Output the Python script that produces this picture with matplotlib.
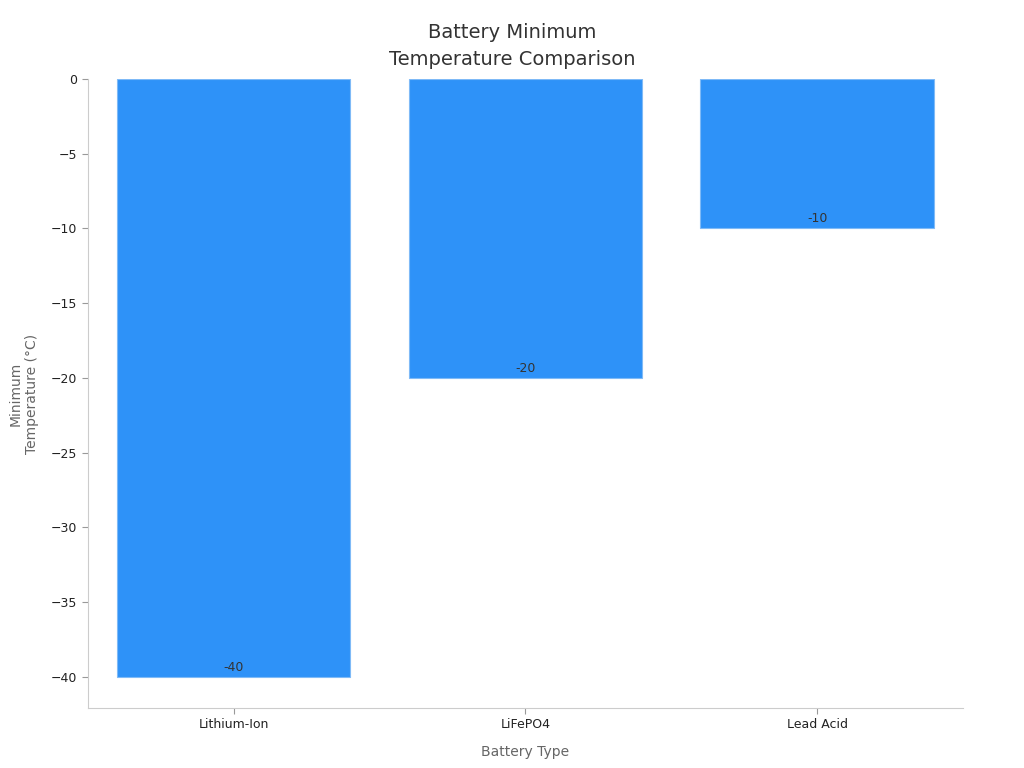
import matplotlib.pyplot as plt

# data
battery_types = ["Lithium-Ion", "LiFePO4", "Lead Acid"]
min_temps = [-40, -20, -10]

fig = plt.figure(figsize=(10.24, 7.68), dpi=100)
ax = fig.add_axes([0.0859, 0.0781, 0.8545, 0.819])

x = range(len(battery_types))
bars = ax.bar(x, min_temps, width=0.8, color="#2e92f8", edgecolor="#7fbaf7", linewidth=0.8)

for xi, v in zip(x, min_temps):
    ax.text(xi, v + 0.2, str(v), ha="center", va="bottom", fontsize=9, color="#333333")

ax.set_xticks(list(x))
ax.set_xticklabels(battery_types, fontsize=9, color="#222222")
ax.set_xlim(-0.5, 2.5)
ax.set_ylim(-42.1, 0)
ax.set_yticks([0, -5, -10, -15, -20, -25, -30, -35, -40])
ax.tick_params(axis="y", labelsize=9, colors="#222222")
ax.tick_params(axis="both", color="#999999", length=4)

for s in ["top", "right"]:
    ax.spines[s].set_visible(False)
for s in ["left", "bottom"]:
    ax.spines[s].set_color("#cccccc")

ax.set_xlabel("Battery Type", fontsize=10, color="#666666", labelpad=10)
ax.set_ylabel("Minimum\nTemperature (°C)", fontsize=10, color="#666666", labelpad=9)
fig.text(0.5, 1 - 46 / 768, "Battery Minimum\nTemperature Comparison", fontsize=14,
         color="#333333", ha="center", va="center", linespacing=1.5)

fig.savefig("out.png", dpi=100)
